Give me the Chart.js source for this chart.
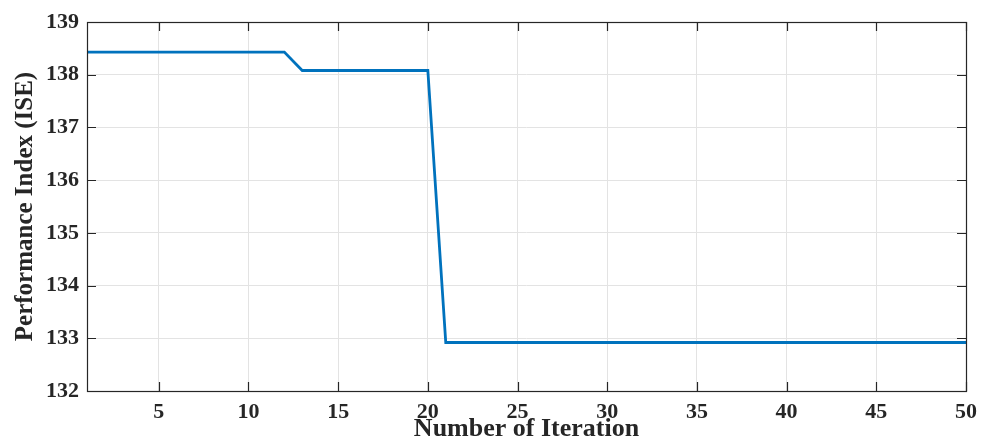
<!DOCTYPE html>
<html>
<head>
<meta charset="utf-8">
<script src="https://cdn.jsdelivr.net/npm/chart.js@4"></script>
<style>
  html, body { margin: 0; padding: 0; background: #ffffff; }
  #wrap { width: 982px; height: 443px; }
</style>
</head>
<body>
<div id="wrap"><canvas id="c" width="982" height="443"></canvas></div>
<script>
// Convergence of the ISE performance index over the optimiser's iterations
const iterations = [1, 2, 3, 4, 5, 6, 7, 8, 9, 10,
  11, 12, 13, 14, 15, 16, 17, 18, 19, 20,
  21, 22, 23, 24, 25, 26, 27, 28, 29, 30,
  31, 32, 33, 34, 35, 36, 37, 38, 39, 40,
  41, 42, 43, 44, 45, 46, 47, 48, 49, 50];
const iseValues = [138.43, 138.43, 138.43, 138.43, 138.43, 138.43, 138.43, 138.43, 138.43, 138.43,
  138.43, 138.43, 138.08, 138.08, 138.08, 138.08, 138.08, 138.08, 138.08, 138.08,
  132.92, 132.92, 132.92, 132.92, 132.92, 132.92, 132.92, 132.92, 132.92, 132.92,
  132.92, 132.92, 132.92, 132.92, 132.92, 132.92, 132.92, 132.92, 132.92, 132.92,
  132.92, 132.92, 132.92, 132.92, 132.92, 132.92, 132.92, 132.92, 132.92, 132.92];
const xTicks = [5, 10, 15, 20, 25, 30, 35, 40, 45, 50];
const yTicks = [132, 133, 134, 135, 136, 137, 138, 139];

const FONT = "'Liberation Serif', 'Times New Roman', serif";

// Box around the plot area plus inward tick marks on all four sides
const boxTicks = {
  id: 'boxTicks',
  afterDatasetsDraw(chart) {
    const { ctx, chartArea: a, scales } = chart;
    const len = 9;
    ctx.save();
    ctx.strokeStyle = '#262626';
    ctx.lineWidth = 1.2;
    ctx.beginPath();
    xTicks.forEach(v => {
      const px = Math.round(scales.x.getPixelForValue(v)) + 0.5;
      ctx.moveTo(px, a.bottom); ctx.lineTo(px, a.bottom - len);
      ctx.moveTo(px, a.top); ctx.lineTo(px, a.top + len);
    });
    yTicks.forEach(v => {
      const py = Math.round(scales.y.getPixelForValue(v)) + 0.5;
      ctx.moveTo(a.left, py); ctx.lineTo(a.left + len, py);
      ctx.moveTo(a.right, py); ctx.lineTo(a.right - len, py);
    });
    ctx.stroke();
    ctx.strokeRect(Math.round(a.left) + 0.5, Math.round(a.top) + 0.5,
      Math.round(a.right - a.left), Math.round(a.bottom - a.top));
    ctx.restore();
  }
};

new Chart(document.getElementById('c'), {
  type: 'line',
  data: {
    datasets: [{
      data: iterations.map((it, i) => ({ x: it, y: iseValues[i] })),
      borderColor: '#0072BD',
      borderWidth: 2.8,
      pointRadius: 0,
      tension: 0,
      fill: false
    }]
  },
  options: {
    responsive: false,
    animation: false,
    devicePixelRatio: 1,
    layout: { padding: { left: 0, right: 16, top: 22, bottom: 0 } },
    plugins: { legend: { display: false }, tooltip: { enabled: false } },
    scales: {
      x: {
        type: 'linear',
        min: 1, max: 50,
        afterFit(scale) {
          scale.height = 52;
          scale.paddingLeft = 0;
          scale.paddingRight = 0;
        },
        afterBuildTicks(scale) { scale.ticks = xTicks.map(v => ({ value: v })); },
        grid: { color: '#e3e3e3', lineWidth: 1, drawTicks: false },
        border: { display: false },
        ticks: {
          color: '#262626', padding: 8, maxRotation: 0, autoSkip: false,
          font: { family: FONT, size: 22, weight: 'bold' }
        },
        title: {
          display: true, text: 'Number of Iteration', color: '#262626',
          font: { family: FONT, size: 26, weight: 'bold', lineHeight: 1 },
          padding: { top: 0, bottom: 1 }
        }
      },
      y: {
        type: 'linear',
        min: 132, max: 139,
        afterFit(scale) {
          scale.width = 87;
          scale.paddingTop = 0;
          scale.paddingBottom = 0;
        },
        afterBuildTicks(scale) { scale.ticks = yTicks.map(v => ({ value: v })); },
        grid: { color: '#e3e3e3', lineWidth: 1, drawTicks: false },
        border: { display: false },
        ticks: {
          color: '#262626', padding: 8,
          font: { family: FONT, size: 22, weight: 'bold' }
        },
        title: {
          display: true, text: 'Performance Index (ISE)', color: '#262626',
          font: { family: FONT, size: 25, weight: 'bold', lineHeight: 1 },
          padding: { top: 13, bottom: 0 }
        }
      }
    }
  },
  plugins: [boxTicks]
});
</script>
</body>
</html>
